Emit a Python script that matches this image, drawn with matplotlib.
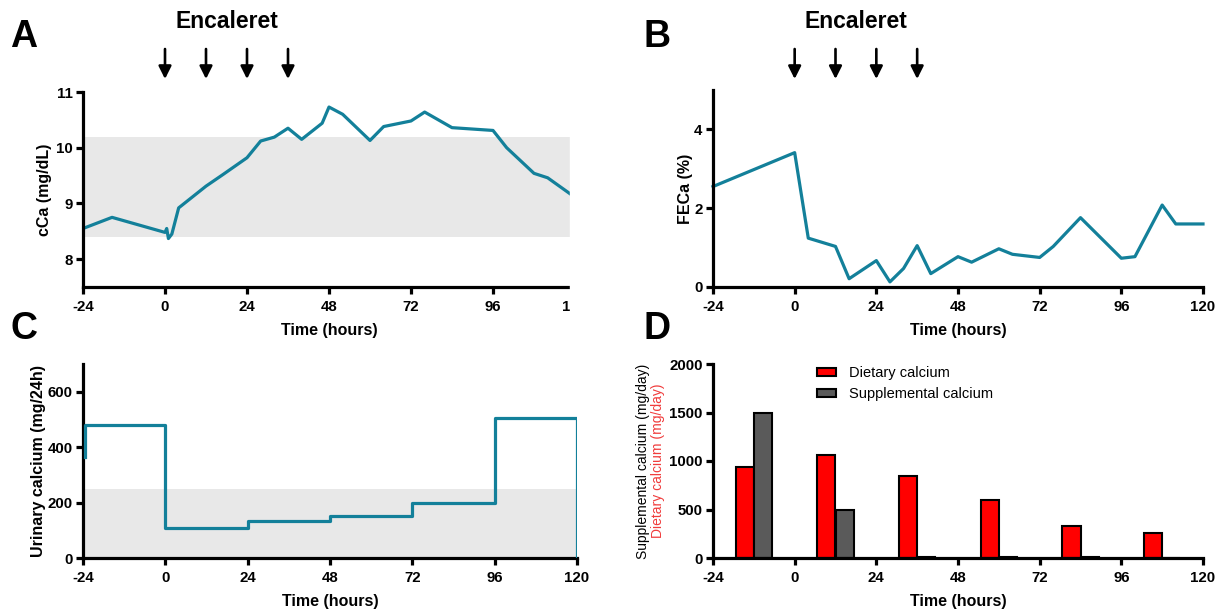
import numpy as np
import matplotlib
matplotlib.use('Agg')
import matplotlib.pyplot as plt
from matplotlib.patches import Rectangle

plt.rcParams['font.family'] = ['Liberation Sans', 'DejaVu Sans']

# ---- data ----
# A: corrected serum calcium
cca_hours = [-24, -15.5, 0, 0.5, 1, 2, 4, 12, 17, 24, 28, 32, 36, 40, 46, 48, 52, 60, 64, 72, 76, 84, 96, 100, 108, 112, 120]
cca_vals = [8.55, 8.75, 8.48, 8.55, 8.37, 8.45, 8.92, 9.31, 9.52, 9.82, 10.12, 10.19, 10.35, 10.15, 10.44, 10.73, 10.6, 10.13, 10.38, 10.48, 10.64, 10.36, 10.31, 10.0, 9.54, 9.46, 9.11]
cca_normal = (8.4, 10.2)

# B: fractional excretion of calcium
feca_hours = [-24, 0, 4, 12, 16, 24, 28, 32, 36, 40, 48, 52, 60, 64, 72, 76, 84, 96, 100, 108, 112, 120]
feca_vals = [2.55, 3.41, 1.24, 1.03, 0.21, 0.67, 0.13, 0.47, 1.05, 0.34, 0.77, 0.63, 0.97, 0.83, 0.75, 1.03, 1.76, 0.73, 0.77, 2.08, 1.6, 1.6]

# C: 24 h urinary calcium
uca_edges = [-24, 0, 24, 48, 72, 96, 120]
uca_vals = [480, 110, 135, 150, 197, 505]
uca_start = 364
uca_normal = 250

# D: calcium intake per day
intake_hours = [-12, 12, 36, 60, 84, 108]
dietary = [940, 1060, 850, 600, 330, 260]
supplemental = [1500, 500, 15, 12, 10, 0]

dose_hours = [0, 12, 24, 36]
xticks = [-24, 0, 24, 48, 72, 96, 120]

TEAL = '#13809a'
BAND = '#e8e8e8'
W, H = 1224, 611

fig = plt.figure(figsize=(W / 100, H / 100), dpi=100)

def px_axes(l, r, t, b):
   return fig.add_axes([l / W, 1 - b / H, (r - l) / W, (b - t) / H])

def style(ax):
   for s in ['top', 'right']:
      ax.spines[s].set_visible(False)
   for s in ['left', 'bottom']:
      ax.spines[s].set_linewidth(2.3)
   ax.tick_params(width=2.3, length=5, labelsize=10.8)
   ax.tick_params(axis='x', pad=4.5)
   ax.tick_params(axis='y', pad=2.5)
   for lab in ax.get_yticklabels():
      lab.set_fontweight('bold')
   ax.set_xticks(xticks)
   ax.set_xticklabels([str(x) for x in xticks], fontweight='bold')
   ax.set_xlim(-24, 120)
   ax.set_xlabel('Time (hours)', fontsize=11.5, fontweight='bold', labelpad=6)

def dose_arrows(ax, top_px):
   # arrow tips at y=79 px, tails at y=49 px, title at y=22 px
   bot_px = 287
   f = lambda y: (bot_px - y) / (bot_px - top_px)
   for h in dose_hours:
      ax.annotate('', xy=(h, f(79)), xytext=(h, f(49)), xycoords=ax.get_xaxis_transform(),
                  arrowprops=dict(arrowstyle='-|>', lw=1.9, color='black', mutation_scale=19,
                                  shrinkA=0, shrinkB=0), annotation_clip=False)
   ax.text(18, f(22), 'Encaleret', transform=ax.get_xaxis_transform(), ha='center', va='center',
           fontsize=16.5, fontweight='bold')

# A
axA = px_axes(83, 575, 92, 287)
axA.axhspan(*cca_normal, color=BAND, lw=0, zorder=0)
axA.plot(cca_hours, cca_vals, color=TEAL, lw=2.3)
axA.set_ylim(7.5, 11)
axA.set_yticks([8, 9, 10, 11])
style(axA)
axA.set_ylabel('cCa (mg/dL)', fontsize=11.5, fontweight='bold', labelpad=3)
dose_arrows(axA, 92)

# B
axB = px_axes(713, 1203, 90, 287)
axB.plot(feca_hours, feca_vals, color=TEAL, lw=2.3, clip_on=False)
axB.set_ylim(0, 5)
axB.set_yticks([0, 2, 4])
style(axB)
axB.set_ylabel('FECa (%)', fontsize=11.5, fontweight='bold', labelpad=1)
dose_arrows(axB, 90)

# C
axC = px_axes(83, 577, 364, 558)
axC.axhspan(0, uca_normal, color=BAND, lw=0, zorder=0)
xs = [uca_edges[0]]
ys = [uca_start]
for i, v in enumerate(uca_vals):
   xs += [uca_edges[i], uca_edges[i + 1]]
   ys += [v, v]
xs.append(uca_edges[-1])
ys.append(0)
xs = np.array(xs, dtype=float)
xs[:2] += 0.5   # left edge sits just inside the spine
axC.plot(xs, ys, color=TEAL, lw=2.3, zorder=3)
axC.set_ylim(0, 700)
axC.set_yticks([0, 200, 400, 600])
style(axC)
axC.set_ylabel('Urinary calcium (mg/24h)', fontsize=11.5, fontweight='bold', labelpad=1)

# D
axD = px_axes(713, 1203, 364, 558)
bw = 5.3
axD.bar(np.array(intake_hours) - bw / 2, dietary, width=bw, color='#ff0000', edgecolor='black',
        lw=1.5, label='Dietary calcium')
axD.bar(np.array(intake_hours) + bw / 2, supplemental, width=bw, color='#5a5a5a', edgecolor='black',
        lw=1.5, label='Supplemental calcium')
axD.set_ylim(0, 2000)
axD.set_yticks([0, 500, 1000, 1500, 2000])
style(axD)
axD.legend(loc='upper left', bbox_to_anchor=(0.197, 1.025), frameon=False, fontsize=10.5,
           handlelength=1.3, handleheight=0.5, handletextpad=0.9, labelspacing=0.45, borderpad=0)
fig.text(643 / W, 1 - 461 / H, 'Supplemental calcium (mg/day)', rotation=90, ha='center', va='center',
         fontsize=10, color='black')
fig.text(658 / W, 1 - 461 / H, 'Dietary calcium (mg/day)', rotation=90, ha='center', va='center',
         fontsize=10, color='#f03c3c')

# crop right edge of panel A as in the original figure
fig.add_artist(Rectangle((570 / W, 1 - 316 / H), 25 / W, 316 / H, transform=fig.transFigure,
                         color='white', zorder=10))

for lab, x, y in [('A', 24, 37), ('B', 657, 37), ('C', 24, 329), ('D', 657, 329)]:
   fig.text(x / W, 1 - y / H, lab, ha='center', va='center', fontsize=27, fontweight='bold')

fig.savefig('out.png', dpi=100)
